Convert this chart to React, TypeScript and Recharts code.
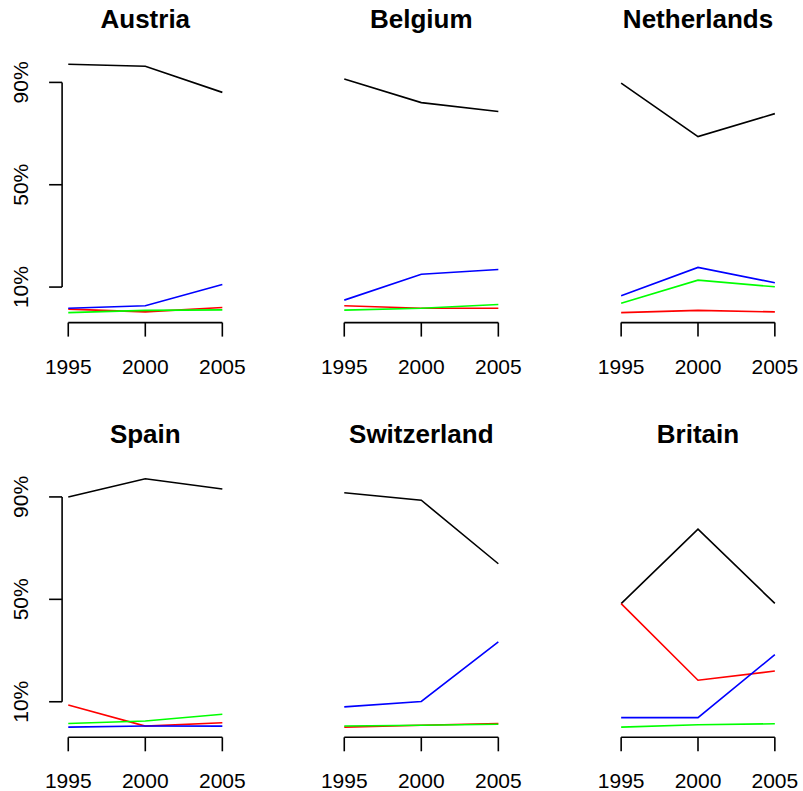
import React from 'react';
import { LineChart, Line, XAxis, YAxis, ReferenceLine } from 'recharts';

// ---------- data ----------
const YEARS = [1995, 2000, 2005];
const COUNTRIES = ['Austria', 'Belgium', 'Netherlands', 'Spain', 'Switzerland', 'Britain'];
const X_TICKS = [1995, 2000, 2005];
const Y_TICKS = [10, 50, 90];
const Y_TICK_LABELS = ['10%', '50%', '90%'];

// one row per country (same order as COUNTRIES), one value per year (percent)
const BLACK_SERIES = [
  [97.1, 96.3, 86.1],
  [91.3, 82.1, 78.6],
  [89.7, 68.8, 77.8],
  [90.0, 97.1, 93.1],
  [91.6, 88.7, 63.9],
  [48.3, 77.4, 48.4],
];
const RED_SERIES = [
  [1.4, 0.3, 2.0],
  [2.7, 1.7, 1.7],
  [0.0, 0.9, 0.3],
  [8.7, 0.5, 1.8],
  [0.1, 0.8, 1.5],
  [48.3, 18.4, 22.0],
];
const GREEN_SERIES = [
  [0.0, 0.9, 1.1],
  [1.0, 1.7, 3.2],
  [3.7, 12.7, 10.1],
  [1.5, 2.5, 5.1],
  [0.5, 0.8, 1.2],
  [0.1, 1.0, 1.4],
];
const BLUE_SERIES = [
  [1.7, 2.7, 11.0],
  [4.9, 15.0, 16.9],
  [6.6, 17.7, 11.7],
  [0.1, 0.5, 0.5],
  [8.0, 10.1, 33.4],
  [3.8, 3.8, 28.4],
];

const SERIES = [
  { key: 'black', values: BLACK_SERIES, color: '#000000' },
  { key: 'red', values: RED_SERIES, color: '#FF0000' },
  { key: 'green', values: GREEN_SERIES, color: '#00FF00' },
  { key: 'blue', values: BLUE_SERIES, color: '#0000FF' },
];

// R-style 4% padded ranges
const pad = (lo: number, hi: number): [number, number] => {
  const d = (hi - lo) * 0.04;
  return [lo - d, hi + d];
};
const allVals = SERIES.flatMap((s) => s.values.flat());
const Y_DOMAIN = pad(Math.min(...allVals), Math.max(...allVals));
const X_DOMAIN = pad(Math.min(...YEARS), Math.max(...YEARS));

// ---------- layout ----------
const FONT = '"Liberation Sans", Arial, Helvetica, sans-serif';
const LW = 1.6;
const COLS = [
  { left: 0, width: 268, plotLeft: 62.1, plotRight: 228.5 },
  { left: 268, width: 268, plotLeft: 338.1, plotRight: 504.5 },
  { left: 536, width: 267, plotLeft: 615.0, plotRight: 781.0 },
];
const ROWS = [
  { top: 40, height: 360, plotTop: 54.3, plotBottom: 322.6, titleBaseline: 28.3 },
  { top: 455, height: 336, plotTop: 468.8, plotBottom: 737.3, titleBaseline: 443.3 },
];

const YTick = (props: any) => {
  const { x, y, payload } = props;
  const i = Y_TICKS.indexOf(payload.value);
  return (
    <text
      x={x}
      y={y}
      transform={`rotate(-90, ${x}, ${y})`}
      textAnchor="middle"
      fontSize={21}
      fontFamily={FONT}
      fill="#000"
    >
      {Y_TICK_LABELS[i]}
    </text>
  );
};

function Panel({ idx }: { idx: number }) {
  const col = COLS[idx % 3];
  const row = ROWS[Math.floor(idx / 3)];
  const showY = idx % 3 === 0;
  const data = YEARS.map((year, i) => {
    const d: any = { year };
    SERIES.forEach((s) => {
      d[s.key] = s.values[idx][i];
    });
    return d;
  });
  return (
    <div style={{ position: 'absolute', left: col.left, top: row.top }}>
      <LineChart
        width={col.width}
        height={row.height}
        data={data}
        margin={{
          top: row.plotTop - row.top,
          right: col.left + col.width - col.plotRight,
          bottom: 0,
          left: 0,
        }}
      >
        <XAxis
          type="number"
          dataKey="year"
          domain={X_DOMAIN}
          ticks={X_TICKS}
          allowDataOverflow
          interval={0}
          height={row.top + row.height - row.plotBottom}
          axisLine={false}
          tickSize={14}
          tickMargin={22}
          tickLine={{ stroke: '#000', strokeWidth: LW }}
          tick={{ fill: '#000', fontSize: 21, fontFamily: FONT }}
        />
        <YAxis
          type="number"
          domain={Y_DOMAIN}
          ticks={Y_TICKS}
          allowDataOverflow
          interval={0}
          width={col.plotLeft - col.left}
          axisLine={false}
          tickSize={13}
          tickMargin={20.6}
          tickLine={showY ? { stroke: '#000', strokeWidth: LW } : false}
          tick={showY ? <YTick /> : false}
        />
        <ReferenceLine
          segment={[
            { x: X_TICKS[0], y: Y_DOMAIN[0] },
            { x: X_TICKS[X_TICKS.length - 1], y: Y_DOMAIN[0] },
          ]}
          stroke="#000"
          strokeWidth={LW}
          ifOverflow="visible"
        />
        {showY && (
          <ReferenceLine
            segment={[
              { x: X_DOMAIN[0], y: Y_TICKS[0] },
              { x: X_DOMAIN[0], y: Y_TICKS[Y_TICKS.length - 1] },
            ]}
            stroke="#000"
            strokeWidth={LW}
            ifOverflow="visible"
          />
        )}
        {SERIES.map((s) => (
          <Line
            key={s.key}
            type="linear"
            dataKey={s.key}
            stroke={s.color}
            strokeWidth={LW}
            dot={false}
            activeDot={false}
            isAnimationActive={false}
          />
        ))}
      </LineChart>
    </div>
  );
}

export default function App() {
  return (
    <div
      style={{
        position: 'absolute',
        left: 0,
        top: 0,
        width: 803,
        height: 791,
        background: '#fff',
        overflow: 'hidden',
      }}
    >
      {COUNTRIES.map((c, i) => (
        <Panel key={c} idx={i} />
      ))}
      <svg
        width={803}
        height={791}
        style={{ position: 'absolute', left: 0, top: 0, pointerEvents: 'none' }}
      >
        {COUNTRIES.map((c, i) => {
          const col = COLS[i % 3];
          const row = ROWS[Math.floor(i / 3)];
          return (
            <text
              key={c}
              x={(col.plotLeft + col.plotRight) / 2}
              y={row.titleBaseline}
              textAnchor="middle"
              fontSize={26}
              fontWeight="bold"
              fontFamily={FONT}
              fill="#000"
            >
              {c}
            </text>
          );
        })}
      </svg>
    </div>
  );
}
